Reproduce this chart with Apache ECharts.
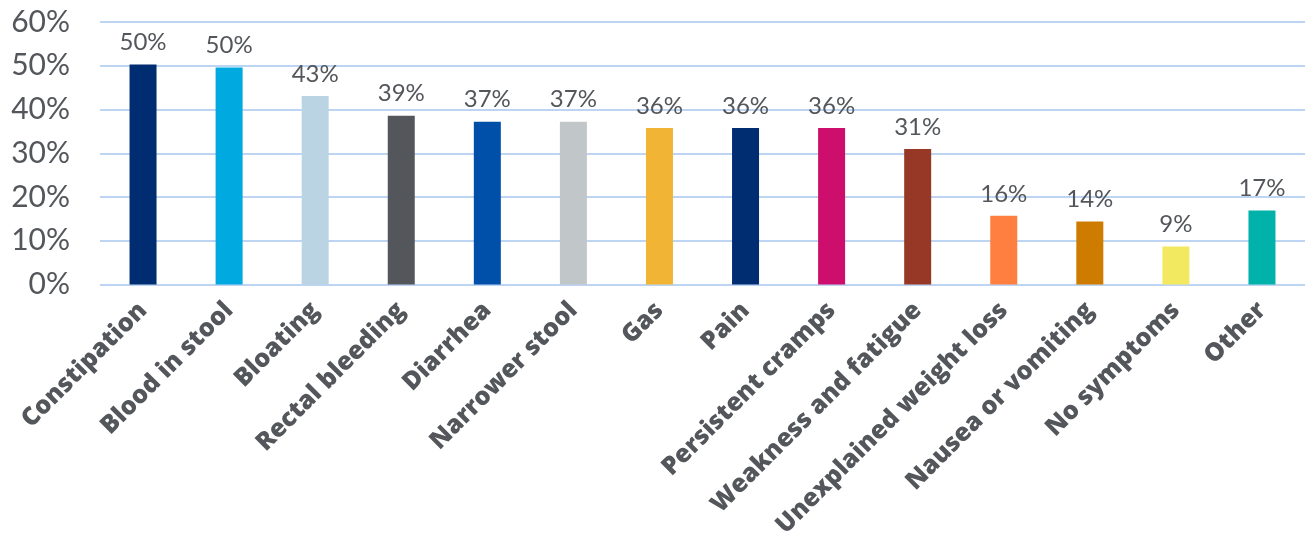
<!DOCTYPE html>
<html><head><meta charset="utf-8">
<script src="https://cdn.jsdelivr.net/npm/echarts@6/dist/echarts.min.js"></script>
<style>html,body{margin:0;padding:0;background:#fff}#c{width:1307px;height:550px}</style>
</head><body><div id="c"></div>
<script>
const categories = ["Constipation","Blood in stool","Bloating","Rectal bleeding","Diarrhea","Narrower stool","Gas","Pain","Persistent cramps","Weakness and fatigue","Unexplained weight loss","Nausea or vomiting","No symptoms","Other"];
const values = [50.3, 49.6, 43.1, 38.6, 37.2, 37.2, 35.8, 35.8, 35.8, 31.0, 15.7, 14.4, 8.7, 16.9];
const colors = ["#002D72","#00A9E0","#BBD4E4","#53565A","#004FA8","#C1C6C8","#F1B434","#002D72","#CE0E6C","#973826","#FF7F41","#CE7C00","#F3E961","#00B2A9"];
const yTicks = [0, 10, 20, 30, 40, 50, 60];

const chart = echarts.init(document.getElementById('c'));
chart.setOption({
  animation: false,
  grid: {left: 100, right: 2, top: 22, bottom: 265.5, containLabel: false},
  xAxis: {
    type: 'category', data: categories,
    axisLine: {show: false}, axisTick: {show: false},
    axisLabel: {rotate: 45, interval: 0, margin: 22, fontFamily: 'Open Sans', fontWeight: 800, fontSize: 25, color: '#53565A'}
  },
  yAxis: {
    type: 'value', min: yTicks[0], max: yTicks[yTicks.length-1], interval: 10,
    axisLine: {show: false}, axisTick: {show: false},
    splitLine: {lineStyle: {color: '#BDD5F3', width: 2}},
    axisLabel: {formatter: v => v + '%', margin: 30, fontFamily: 'Lato', fontSize: 30, color: '#53565A'}
  },
  series: [{
    type: 'bar', barWidth: 27,
    data: values.map((v, i) => ({value: v, itemStyle: {color: colors[i]}})),
    label: {show: true, position: 'top', distance: 10, formatter: p => Math.round(p.value) + '%', fontFamily: 'Lato', fontSize: 24, color: '#53565A'}
  }]
});
</script></body></html>
